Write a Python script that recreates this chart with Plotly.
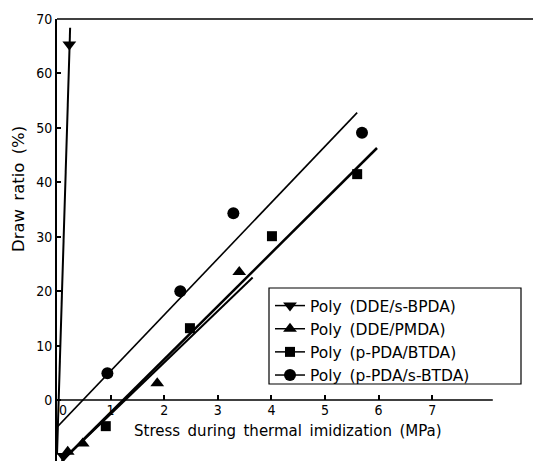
import plotly.graph_objects as go

# ---- data ----
bpda_x = [0.12, 0.23]
bpda_y = [-10.3, 65.3]
pmda_x = [0.20, 0.48, 1.87, 3.40]
pmda_y = [-9.5, -8.0, 3.1, 23.5]
btda_x = [0.91, 2.48, 4.01, 5.60]
btda_y = [-4.8, 13.2, 30.1, 41.5]
sbtda_x = [0.94, 2.30, 3.29, 5.69]
sbtda_y = [4.9, 20.0, 34.3, 49.1]

# fitted lines (end points)
bpda_fit_x = [0.0, 0.245]
bpda_fit_y = [-10.0, 68.4]
pmda_fit_x = [0.09, 3.65]
pmda_fit_y = [-11.2, 22.5]
btda_fit_x = [0.09, 5.97]
btda_fit_y = [-11.2, 46.3]
sbtda_fit_x = [0.0, 5.60]
sbtda_fit_y = [-5.0, 52.8]

names = ["Poly (DDE/s-BPDA)", "Poly (DDE/PMDA)", "Poly (p-PDA/BTDA)", "Poly (p-PDA/s-BTDA)"]
symbols = ["triangle-down", "triangle-up", "square", "circle"]
x_ticks = [1, 2, 3, 4, 5, 6, 7]
y_ticks = [0, 10, 20, 30, 40, 50, 60, 70]

TICKFONT = dict(family="Liberation Sans Narrow, DejaVu Sans Condensed, sans-serif", size=14, color="black")
SP = "\u2002"

fig = go.Figure()

fits = [(bpda_fit_x, bpda_fit_y, 2), (pmda_fit_x, pmda_fit_y, 2),
        (btda_fit_x, btda_fit_y, 2.5), (sbtda_fit_x, sbtda_fit_y, 1.6)]
for fx, fy, w in fits:
    fig.add_trace(go.Scatter(x=fx, y=fy, mode="lines", line=dict(color="black", width=w),
                             showlegend=False, hoverinfo="skip"))

pts = [(bpda_x, bpda_y), (pmda_x, pmda_y), (btda_x, btda_y), (sbtda_x, sbtda_y)]
sizes = [12, 12, 10, 12]
for (px, py), nm, sym, sz in zip(pts, names, symbols, sizes):
    fig.add_trace(go.Scatter(x=px, y=py, mode="markers", name=nm,
                             marker=dict(symbol=sym, size=sz, color="black"),
                             showlegend=False))
    # legend entry: dash - marker - dash
    fig.add_trace(go.Scatter(x=[None], y=[None], mode="lines+markers", name=nm.replace(" ", SP),
                             marker=dict(symbol=sym, size=sz, color="black"),
                             line=dict(color="black", width=1.5)))

W, H, L, T = 533, 461, 57, 19
PW, PH = W - L, H - T

def px_x(p):
    return (p - L) / PW

def px_y(p):
    return (H - p) / PH

x_end = 8.13
fig.add_shape(type="line", xref="x", yref="y", x0=0, x1=x_end, y0=0, y1=0,
              line=dict(color="black", width=1.5))
fig.add_shape(type="line", xref="paper", yref="paper", x0=0, x1=1, y0=1, y1=1,
              line=dict(color="black", width=1.5))
# legend frame
fig.add_shape(type="rect", xref="paper", yref="paper", x0=px_x(269), x1=px_x(521),
              y0=px_y(384), y1=px_y(288), line=dict(color="black", width=1.2))

y_min, y_max = -11.2, 70
fig.update_layout(
    width=W, height=H,
    margin=dict(l=L, r=0, t=T, b=0),
    paper_bgcolor="white", plot_bgcolor="white",
    xaxis=dict(range=[0, 8.88], tickvals=x_ticks, ticktext=[str(v) for v in x_ticks],
               showgrid=False, zeroline=False, showline=False,
               anchor="free", position=(0 - y_min) / (y_max - y_min),
               ticks="inside", ticklen=5, tickwidth=1.5, tickcolor="black",
               tickfont=TICKFONT),
    yaxis=dict(range=[y_min, y_max], tickvals=y_ticks, ticktext=[str(v) for v in y_ticks],
               showgrid=False, zeroline=False, showline=True, linecolor="black", linewidth=2,
               ticks="inside", ticklen=4, tickwidth=1.5, tickcolor="black",
               tickfont=TICKFONT),
    legend=dict(x=px_x(270), y=px_y(289), xanchor="left", yanchor="top",
                borderwidth=0, bgcolor="rgba(0,0,0,0)",
                font=dict(family="DejaVu Sans, sans-serif", size=15.5, color="black"),
                itemwidth=30, tracegroupgap=0),
    showlegend=True,
)

fig.add_annotation(text="0", xref="paper", yref="paper", x=px_x(63), y=px_y(410),
                   showarrow=False, font=TICKFONT, xanchor="center", yanchor="middle")
fig.add_annotation(text="Stress during thermal imidization (MPa)".replace(" ", SP),
                   xref="paper", yref="paper", x=px_x(288), y=px_y(431), showarrow=False,
                   font=dict(family="DejaVu Sans, sans-serif", size=15, color="black"),
                   xanchor="center", yanchor="middle")
fig.add_annotation(text="Draw ratio (%)".replace(" ", SP), xref="paper", yref="paper",
                   x=px_x(19), y=px_y(189), showarrow=False, textangle=-90,
                   font=dict(family="DejaVu Sans, sans-serif", size=16.5, color="black"),
                   xanchor="center", yanchor="middle")

fig.write_html("out.html")
